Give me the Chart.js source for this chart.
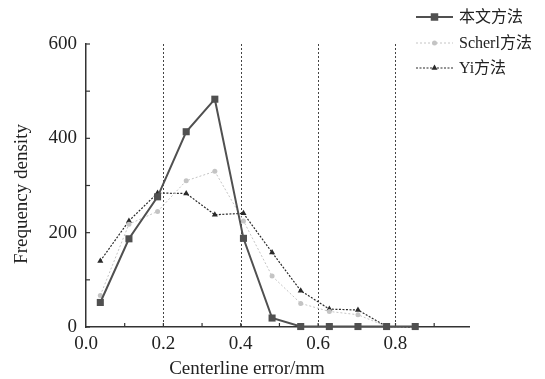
<!DOCTYPE html>
<html><head><meta charset="utf-8">
<script src="https://cdn.jsdelivr.net/npm/chart.js@4"></script>
<style>html,body{margin:0;padding:0;background:#fff}#wrap{width:545px;height:379px}</style>
</head><body><div id="wrap"><canvas id="c" width="545" height="379"></canvas></div>
<script>
const xCenters = [0.037,0.111,0.185,0.259,0.333,0.407,0.481,0.555,0.629,0.703,0.777,0.851];
const oursVals = [52,187,276,414,483,188,19,1,1,1,1,1];
const scherlVals = [67,218,245,310,330,225,108,50,33,26,1,0];
const yiVals = [140,225,284,283,238,241,158,77,38,36,1,0];
const seriesNames = ['本文方法','Scherl方法','Yi方法'];
const xTickLabels = [0,0.2,0.4,0.6,0.8];
const yTickLabels = [0,200,400,600];
const dashedGrid = [0.2,0.4,0.6,0.8];
const xTitle = 'Centerline error/mm';
const yTitle = 'Frequency density';

const SERIF = "'Liberation Serif','Noto Sans CJK SC',serif";
const toPts = vals => vals.map((v,i)=>({x:xCenters[i], y:v}));

const extras = {
  id:'extras',
  beforeDatasetsDraw(chart){
    const {ctx, chartArea:a, scales:{x,y}} = chart;
    ctx.save();
    ctx.strokeStyle='#444'; ctx.lineWidth=1; ctx.setLineDash([2,2]);
    dashedGrid.forEach(v=>{
      const px=Math.round(x.getPixelForValue(v))+0.5;
      ctx.beginPath(); ctx.moveTo(px,a.top); ctx.lineTo(px,a.bottom); ctx.stroke();
    });
    ctx.setLineDash([]);
    ctx.strokeStyle='#333'; ctx.lineWidth=1.2;
    for(let v=0; v<=600; v+=100){
      const py=y.getPixelForValue(v);
      ctx.beginPath(); ctx.moveTo(a.left,py); ctx.lineTo(a.left+4,py); ctx.stroke();
    }
    for(let k=1; k<=9; k++){
      const px=x.getPixelForValue(k/10);
      ctx.beginPath(); ctx.moveTo(px,a.bottom); ctx.lineTo(px,a.bottom-4); ctx.stroke();
    }
    ctx.restore();
  },
  afterDraw(chart){
    const {ctx} = chart;
    ctx.save();
    ctx.fillStyle='#222';
    ctx.font="19px "+SERIF;
    ctx.textAlign='center'; ctx.textBaseline='middle';
    ctx.fillText(xTitle, 247, 369);
    ctx.save();
    ctx.translate(22,194); ctx.rotate(-Math.PI/2);
    ctx.fillText(yTitle, 0, 0);
    ctx.restore();
    // legend
    const rows=[17,43,68];
    chart.data.datasets.forEach((ds,i)=>{
      const yy=rows[i];
      ctx.strokeStyle=ds.borderColor; ctx.lineWidth=ds.borderWidth;
      ctx.setLineDash(ds.borderDash||[]);
      ctx.beginPath(); ctx.moveTo(416,yy); ctx.lineTo(453,yy); ctx.stroke();
      ctx.setLineDash([]);
      ctx.fillStyle=ds.pointBackgroundColor;
      const cx=434.5, r=ds.pointRadius;
      if(ds.pointStyle==='rect'){ ctx.fillRect(cx-r*0.75,yy-r*0.75,r*1.5,r*1.5); }
      else if(ds.pointStyle==='triangle'){ ctx.beginPath(); ctx.moveTo(cx,yy-r); ctx.lineTo(cx+r*0.87,yy+r*0.5); ctx.lineTo(cx-r*0.87,yy+r*0.5); ctx.closePath(); ctx.fill(); }
      else { ctx.beginPath(); ctx.arc(cx,yy,r,0,Math.PI*2); ctx.fill(); }
      ctx.fillStyle='#222'; ctx.font="16px "+SERIF; ctx.textAlign='left';
      ctx.fillText(seriesNames[i], 459, yy+1);
    });
    ctx.restore();
  }
};

new Chart(document.getElementById('c'), {
  type:'line',
  data:{datasets:[
    {label:seriesNames[0], data:toPts(oursVals), borderColor:'#505050', borderWidth:2,
     pointStyle:'rect', pointRadius:5, pointBackgroundColor:'#505050', pointBorderColor:'#505050', pointBorderWidth:0},
    {label:seriesNames[1], data:toPts(scherlVals), borderColor:'#c4c4c4', borderWidth:1, borderDash:[2,2],
     pointStyle:'circle', pointRadius:2.5, pointBackgroundColor:'#c4c4c4', pointBorderColor:'#c4c4c4', pointBorderWidth:0},
    {label:seriesNames[2], data:toPts(yiVals), borderColor:'#2a2a2a', borderWidth:1.2, borderDash:[2,1.5],
     pointStyle:'triangle', pointRadius:3.5, pointBackgroundColor:'#2a2a2a', pointBorderColor:'#2a2a2a', pointBorderWidth:0}
  ]},
  options:{
    responsive:false, animation:false, clip:false,
    layout:{padding:{top:44,right:76,left:0,bottom:0}},
    plugins:{legend:{display:false}, tooltip:{enabled:false}},
    elements:{line:{tension:0}},
    scales:{
      x:{type:'linear', min:0, max:0.99,
        afterFit(s){ s.height=52; },
        afterBuildTicks(s){ s.ticks = xTickLabels.map(v=>({value:v})); },
        grid:{drawOnChartArea:false, drawTicks:false},
        border:{display:true, color:'#333', width:1.5},
        ticks:{color:'#222', padding:6, font:{family:SERIF, size:19}, maxRotation:0,
          callback:v=>v.toFixed(1)}
      },
      y:{min:0, max:600,
        afterFit(s){ s.width=86; },
        afterBuildTicks(s){ s.ticks = yTickLabels.map(v=>({value:v})); },
        grid:{drawOnChartArea:false, drawTicks:false},
        border:{display:true, color:'#333', width:1.5},
        ticks:{color:'#222', padding:9, font:{family:SERIF, size:19}, callback:v=>String(v)}
      }
    }
  },
  plugins:[extras]
});
</script></body></html>
